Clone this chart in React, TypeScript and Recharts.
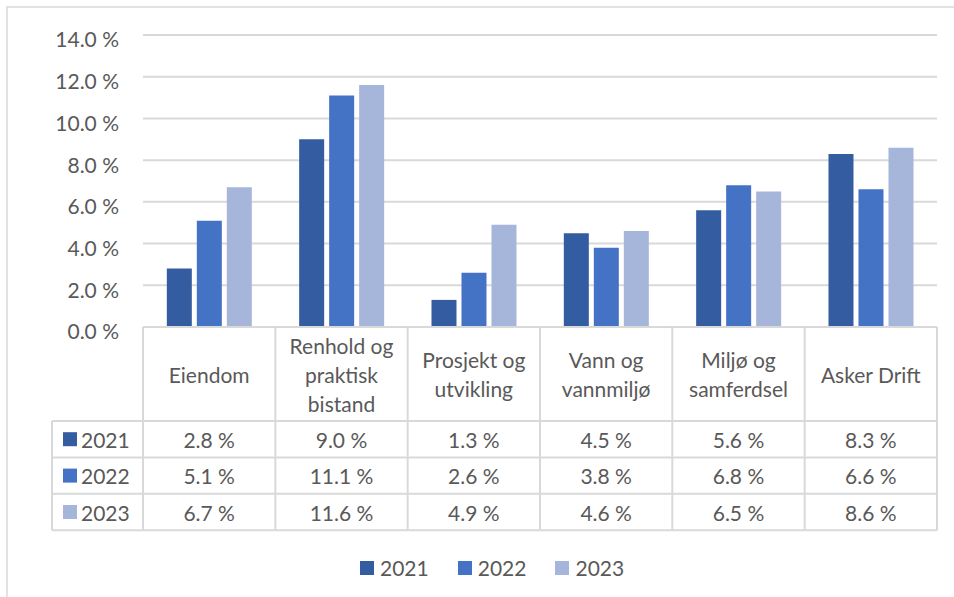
import React from "react";
import { BarChart, Bar, XAxis, YAxis, CartesianGrid, Legend } from "recharts";

// data
const categories = [
  "Eiendom",
  "Renhold og praktisk bistand",
  "Prosjekt og utvikling",
  "Vann og vannmiljø",
  "Miljø og samferdsel",
  "Asker Drift",
];
const years = ["2021", "2022", "2023"];
const values2021 = [2.8, 9.0, 1.3, 4.5, 5.6, 8.3];
const values2022 = [5.1, 11.1, 2.6, 3.8, 6.8, 6.6];
const values2023 = [6.7, 11.6, 4.9, 4.6, 6.5, 8.6];
const yTicks = [0, 2, 4, 6, 8, 10, 12, 14];

const COLORS = ["#345ca1", "#4472c4", "#a6b5da"];
const seriesValues = [values2021, values2022, values2023];

const data = categories.map((name, i) => ({
  name,
  y2021: values2021[i],
  y2022: values2022[i],
  y2023: values2023[i],
}));

// layout
const W = 954;
const H = 597;
const PLOT_LEFT = 143;
const PLOT_RIGHT = 937;
const PLOT_TOP = 35;
const PLOT_BOTTOM = 327;
const HEADER_BOTTOM = 421;
const ROW_H = 36.4;
const TABLE_LEFT = 52;
const LINE_H = 29;
const TEXT = "#595959";
const GRID = "#d9d9d9";
const FONT = 21;

const pct = (v: number) => `${v.toFixed(1)} %`;

function wrap(label: string, max = 11) {
  const words = label.split(" ");
  const lines: string[] = [];
  let cur = "";
  for (const w of words) {
    const next = cur ? cur + " " + w : w;
    if (next.length > max && cur) {
      lines.push(cur);
      cur = w;
    } else cur = next;
  }
  if (cur) lines.push(cur);
  return lines;
}

function CategoryTick(props: any) {
  const { x, payload } = props;
  const idx = categories.indexOf(payload.value);
  const lines = wrap(payload.value);
  const mid = (PLOT_BOTTOM + HEADER_BOTTOM) / 2;
  const start = mid - ((lines.length - 1) * LINE_H) / 2;
  return (
    <g fontSize={FONT} fill={TEXT}>
      {lines.map((l, i) => (
        <text key={i} x={x} y={start + i * LINE_H} textAnchor="middle" dominantBaseline="central">
          {l}
        </text>
      ))}
      {seriesValues.map((vals, r) => (
        <text
          key={"v" + r}
          x={x}
          y={HEADER_BOTTOM + (r + 0.5) * ROW_H}
          textAnchor="middle"
          dominantBaseline="central"
        >
          {pct(vals[idx])}
        </text>
      ))}
    </g>
  );
}

function BottomLegend() {
  return (
    <div style={{ display: "flex", alignItems: "center", fontSize: FONT, color: TEXT }}>
      {years.map((y, i) => (
        <div key={y} style={{ display: "flex", alignItems: "center", marginRight: 29 }}>
          <span style={{ width: 14, height: 14, background: COLORS[i], marginRight: 6 }} />
          <span>{y}</span>
        </div>
      ))}
    </div>
  );
}

function TableGrid() {
  const n = categories.length;
  const band = (PLOT_RIGHT - PLOT_LEFT) / n;
  const tableBottom = HEADER_BOTTOM + ROW_H * years.length;
  const rowLines = years.map((_, r) => HEADER_BOTTOM + r * ROW_H).concat(tableBottom);
  return (
    <svg
      width={W}
      height={H}
      style={{ position: "absolute", left: 0, top: 0, pointerEvents: "none" }}
    >
      <rect x={7} y={7} width={W} height={H} fill="none" stroke={GRID} strokeWidth={1.5} />
      <line x1={PLOT_LEFT} x2={PLOT_RIGHT} y1={PLOT_BOTTOM} y2={PLOT_BOTTOM} stroke={GRID} strokeWidth={2} />
      {rowLines.map((y, i) => (
        <line key={i} x1={TABLE_LEFT} x2={PLOT_RIGHT} y1={y} y2={y} stroke={GRID} strokeWidth={2} />
      ))}
      {Array.from({ length: n + 1 }, (_, i) => (
        <line
          key={"c" + i}
          x1={PLOT_LEFT + i * band}
          x2={PLOT_LEFT + i * band}
          y1={PLOT_BOTTOM}
          y2={tableBottom}
          stroke={GRID}
          strokeWidth={2}
        />
      ))}
      <line x1={TABLE_LEFT} x2={TABLE_LEFT} y1={HEADER_BOTTOM} y2={tableBottom} stroke={GRID} strokeWidth={2} />
      {years.map((y, r) => {
        const cy = HEADER_BOTTOM + (r + 0.5) * ROW_H;
        return (
          <g key={y}>
            <rect x={63} y={cy - 7} width={14} height={14} fill={COLORS[r]} />
            <text x={81} y={cy} dominantBaseline="central" fontSize={FONT} fill={TEXT}>
              {y}
            </text>
          </g>
        );
      })}
    </svg>
  );
}

export default function App() {
  return (
    <div
      style={{
        position: "absolute",
        left: 0,
        top: 0,
        width: W,
        height: H,
        background: "#fff",
        fontFamily: "Lato, sans-serif",
        overflow: "hidden",
      }}
    >
      <BarChart
        width={W}
        height={H}
        data={data}
        margin={{ top: PLOT_TOP, right: W - PLOT_RIGHT, left: 0, bottom: H - HEADER_BOTTOM }}
        barCategoryGap="18%"
        barGap={5}
      >
        <CartesianGrid vertical={false} stroke={GRID} strokeWidth={2} />
        <XAxis
          dataKey="name"
          axisLine={false}
          tickLine={false}
          interval={0}
          height={HEADER_BOTTOM - PLOT_BOTTOM}
          tick={(p: any) => <CategoryTick {...p} />}
        />
        <YAxis
          width={PLOT_LEFT}
          domain={[0, 14]}
          ticks={yTicks}
          axisLine={false}
          tickLine={false}
          tickSize={6}
          tickMargin={18}
          tickFormatter={pct}
          tick={{ fill: TEXT, fontSize: FONT, dy: 5 }}
        />
        <Legend
          layout="horizontal"
          verticalAlign="middle"
          align="center"
          wrapperStyle={{ top: 555, left: 360, width: 320 }}
          content={() => <BottomLegend />}
        />
        <Bar dataKey="y2021" name="2021" fill={COLORS[0]} isAnimationActive={false} />
        <Bar dataKey="y2022" name="2022" fill={COLORS[1]} isAnimationActive={false} />
        <Bar dataKey="y2023" name="2023" fill={COLORS[2]} isAnimationActive={false} />
      </BarChart>
      <TableGrid />
    </div>
  );
}
